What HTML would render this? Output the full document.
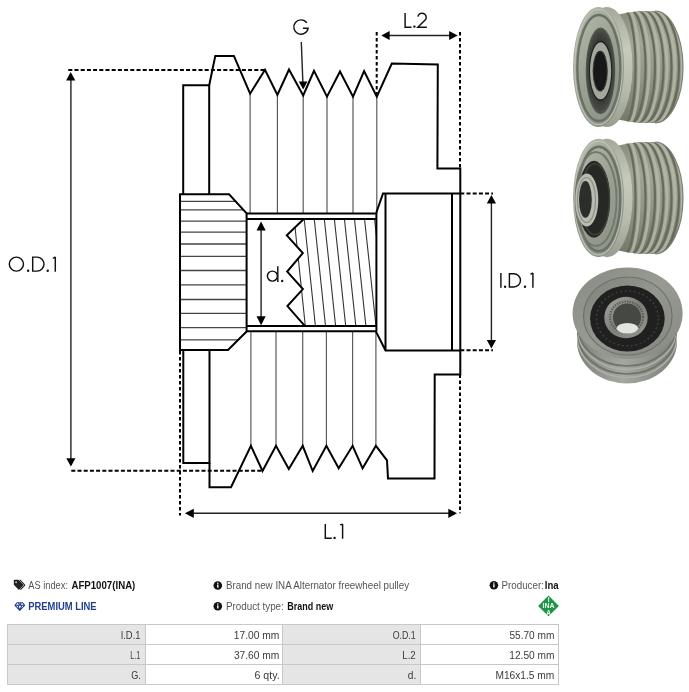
<!DOCTYPE html>
<html><head><meta charset="utf-8">
<style>
html,body{margin:0;padding:0;background:#fff;width:689px;height:692px;overflow:hidden;}
svg{position:absolute;left:0;top:0;will-change:transform;}
text{font-family:"Liberation Sans",sans-serif;}
</style></head>
<body>
<svg width="689" height="692" viewBox="0 0 689 692">
<defs>
  <clipPath id="hubclip"><path d="M180,194.3 L229.1,194.3 L246.6,213.3 L246.6,331.5 L228,349.9 L180,349.9 Z"/></clipPath>
  <clipPath id="thrclip"><path d="M303.5,219.2 L286.8,235.4 L302.8,253.1 L287.2,271.6 L302.9,289.1 L287.4,306.1 L304.8,325.9 L376.4,325.9 L376.4,219.2 Z"/></clipPath>
</defs>

<!-- DIAGRAM -->
<g id="diagram" fill="none" stroke-linejoin="miter">
  <!-- thin rib lines -->
  <g stroke="#5c5c5c" stroke-width="1.2">
    <path d="M250.1,93.7V213.6 M277.4,95V213.6 M303.2,95.5V213.6 M327,96.6V213.6 M353,96.6V213.6 M376.8,96.6V213.6"/>
    <path d="M250.9,331.2V445.8 M276,331.2V445.8 M302.7,331.2V445.8 M326.4,331.2V445.8 M352.6,331.2V445.8 M375.9,331.2V445.8"/>
  </g>
  <!-- spline lines in left hub -->
  <g stroke="#444" stroke-width="1.3" clip-path="url(#hubclip)">
    <path d="M180,201.3H250 M180,209.9H250 M180,221.2H250 M180,232.1H250 M180,244H250 M180,256.3H250 M180,270.5H250 M180,284.9H250 M180,299.5H250 M180,313.4H250 M180,327.7H250 M180,339.8H250"/>
  </g>
  <!-- thread hatch -->
  <g stroke="#333" stroke-width="1.1" clip-path="url(#thrclip)">
    <path d="M294.2,219.2L305.3,326 M304.25,219.2L315.4,326 M314.3,219.2L325.5,326 M324.35,219.2L335.6,326 M334.4,219.2L345.7,326 M344.45,219.2L355.8,326 M354.5,219.2L365.9,326 M364.55,219.2L376,326 M374.6,219.2L386,326"/>
  </g>
  <!-- main outlines -->
  <g stroke="#000" stroke-width="2">
    <path d="M183.2,194.3 V85.3 H209.2 V194.3"/>
    <path d="M183.3,349.9 V463 H209.5 V349.9"/>
    <path d="M209.2,85.3 L215.3,55.9 L233.9,55.9 L250.1,93.7 L265,69.7 L277.4,95 L289,69.5 L303.2,95.5 L314,70.9 L327,96.6 L340,71.5 L353,96.6 L364.1,71 L376.8,96.6 L391.8,63.5 L437.8,64.4 L437.4,168.4 L460.3,168.4 L460.3,374.4 L434.7,374.4 L434.5,478.4 L388,478.4 L387,460.4 L375.9,445.8 L362.6,468.3 L352.6,445.8 L338.7,468.3 L326.4,445.8 L312.7,471 L302.7,445.8 L288.8,469 L276,445.8 L262.5,471 L250.9,445.8 L231,487.2 L209.5,487.2 L209.5,463"/>
    <path d="M180,194.3 L229.1,194.3 L246.6,213.3 L246.6,331.5 L228,349.9 L180,349.9 Z"/>
    <path d="M246.6,213.6 H376.4 M246.6,219.1 H376.4 M246.6,326 H376.4 M246.6,331.2 H376.4"/>
    <path d="M376.4,212.5 V331.6"/>
    <path d="M376.4,212.5 L383,193.5 H460.3 M385.5,193.5 V350.4 M452,193.5 V350.4 M376,331.6 L385.5,350.4 H460.3"/>
    <path d="M303.5,219.2 L286.8,235.4 L302.8,253.1 L287.2,271.6 L302.9,289.1 L287.4,306.1 L304.8,325.9"/>
  </g>
  <!-- dashed extension lines -->
  <g stroke="#000" stroke-width="2" stroke-dasharray="4 2.2">
    <path d="M68.3,70 H265"/>
    <path d="M71.3,470.7 H262.5"/>
    <path d="M460.3,193.6 H493"/>
    <path d="M460.3,350.3 H493"/>
  </g>
  <g stroke="#000" stroke-width="2" stroke-dasharray="3.5 2.5">
    <path d="M376.7,32 V96"/>
    <path d="M460,32 V168.4"/>
    <path d="M180,351 V515.4"/>
    <path d="M460,374.4 V513.3"/>
  </g>
  <!-- dimension lines -->
  <g stroke="#222" stroke-width="1.4">
    <path d="M70.9,78 V460"/>
    <path d="M491.4,202 V342"/>
    <path d="M261.1,228 V318"/>
    <path d="M388,35.5 H451"/>
    <path d="M191,513.3 H451"/>
    <path d="M301.3,42 L302.9,83"/>
  </g>
  <g fill="#000" stroke="none">
    <path d="M70.7,72 L75.3,80.5 L66.1,80.5 Z"/>
    <path d="M70.9,466.6 L75.5,458.3 L66.3,458.3 Z"/>
    <path d="M491.4,195 L496,203.5 L486.8,203.5 Z"/>
    <path d="M491.4,348.5 L496,340 L486.8,340 Z"/>
    <path d="M261.1,221.5 L265.7,230.5 L256.5,230.5 Z"/>
    <path d="M261.1,325.3 L265.7,316.3 L256.5,316.3 Z"/>
    <path d="M381.3,35.5 L389.6,30.9 L389.6,40.1 Z"/>
    <path d="M457.8,35.5 L449.1,30.9 L449.1,40.1 Z"/>
    <path d="M184.9,513.3 L193.8,508.7 L193.8,517.9 Z"/>
    <path d="M457,513.3 L448.3,508.7 L448.3,517.9 Z"/>
    <path d="M303.2,89.6 L307.5,81.5 L298.8,81.5 Z"/>
  </g>
  <!-- labels -->
  <g fill="none" stroke="#111" stroke-width="1.45" stroke-linejoin="miter" stroke-linecap="butt">
    <path d="M306.8,22.8 A7.2,7.2 0 1 0 308.08,28.3 H302.9"/>
    <path d="M405.1,12.9 V27.2 H411.5"/>
    <path d="M417.9,16.6 A4.2,4.2 0 1 1 425.6,19.6 L417.8,27.2 H426.9"/>
    <ellipse cx="16.4" cy="264.1" rx="7.1" ry="7.0"/>
    <path d="M32.7,257.1 H37 A7,7 0 0 1 37,271.1 H32.7 Z"/>
    <path d="M55.3,256.9 V271.8 M52.9,258.5 L55.4,256.9"/>
    <path d="M500.9,272.9 V287.8"/>
    <path d="M509.4,273.7 H513.9 A6.6,6.6 0 0 1 513.9,286.9 H509.4 Z"/>
    <path d="M532.9,272.9 V287.8 M530.5,274.4 L533,272.9"/>
    <circle cx="272.4" cy="276.1" r="5.0"/>
    <path d="M277.8,266.2 V281.9"/>
    <path d="M325.3,524.1 V538.3 H331.8"/>
    <path d="M342.6,524.1 V538.7 M340.1,524.9 L342.7,524.1"/>
  </g>
  <g fill="#111">
    <circle cx="414.4" cy="26.6" r="1.2"/>
    <circle cx="28.1" cy="270.8" r="1.2"/>
    <circle cx="47.7" cy="270.8" r="1.2"/>
    <circle cx="505.1" cy="286.8" r="1.2"/>
    <circle cx="525" cy="286.8" r="1.2"/>
    <circle cx="282.2" cy="281" r="1.2"/>
    <circle cx="334.6" cy="537.9" r="1.2"/>
  </g>
</g>

<!-- PHOTOS -->
<g id="photos">
<defs>
  <linearGradient id="bodyG" x1="0" y1="0" x2="0" y2="1">
    <stop offset="0" stop-color="#878c7c"/>
    <stop offset="0.28" stop-color="#a0a594"/>
    <stop offset="0.6" stop-color="#8f9484"/>
    <stop offset="1" stop-color="#737868"/>
  </linearGradient>
  <linearGradient id="faceG" x1="0.2" y1="0" x2="0.8" y2="1">
    <stop offset="0" stop-color="#b2b9ab"/>
    <stop offset="0.45" stop-color="#9aa294"/>
    <stop offset="1" stop-color="#8a9185"/>
  </linearGradient>
  <linearGradient id="rimG" x1="0" y1="0" x2="0" y2="1">
    <stop offset="0" stop-color="#a4a99c"/>
    <stop offset="0.35" stop-color="#c6cabd"/>
    <stop offset="0.7" stop-color="#b6baad"/>
    <stop offset="1" stop-color="#989d90"/>
  </linearGradient>
  <radialGradient id="bearG" cx="0.5" cy="0.5" r="0.5">
    <stop offset="0.6" stop-color="#30332f"/>
    <stop offset="0.9" stop-color="#454943"/>
    <stop offset="1" stop-color="#585c55"/>
  </radialGradient>
  <linearGradient id="top3G" x1="0" y1="0" x2="1" y2="1">
    <stop offset="0" stop-color="#878b83"/>
    <stop offset="0.5" stop-color="#979b92"/>
    <stop offset="1" stop-color="#858981"/>
  </linearGradient>
  <linearGradient id="ring3G" x1="0" y1="0" x2="1" y2="1">
    <stop offset="0" stop-color="#7f827a"/>
    <stop offset="0.5" stop-color="#94978f"/>
    <stop offset="1" stop-color="#858880"/>
  </linearGradient>
  <linearGradient id="hub3G" x1="0" y1="0" x2="1" y2="1">
    <stop offset="0" stop-color="#a4a7a0"/>
    <stop offset="0.5" stop-color="#7c7f79"/>
    <stop offset="1" stop-color="#959891"/>
  </linearGradient>
  <linearGradient id="body3G" x1="0" y1="0" x2="1" y2="0">
    <stop offset="0" stop-color="#7c8078"/>
    <stop offset="0.45" stop-color="#a4a8a0"/>
    <stop offset="1" stop-color="#7a7e76"/>
  </linearGradient>
</defs>
<!-- photo 1 -->
<g><clipPath id="bclip1"><path d="M613,16 Q628,11.5 645,11 L655,11 A28,56 0 0 1 655,123 L645,123 Q628,122.5 613,118 Z"/></clipPath>
<path d="M613,16 Q628,11.5 645,11 L655,11 A28,56 0 0 1 655,123 L645,123 Q628,122.5 613,118 Z" fill="url(#bodyG)"/>
<g clip-path="url(#bclip1)" fill="none">
<path d="M624.0,10 A11.5,57 0 0 1 624.0,124" stroke="#656a5c" stroke-width="2.2"/>
<path d="M627.6,10 A11.5,57 0 0 1 627.6,124" stroke="#b4b9a8" stroke-width="3.0" stroke-opacity="0.85"/>
<path d="M630.0,10 A15.5,57 0 0 1 630.0,124" stroke="#656a5c" stroke-width="2.2"/>
<path d="M633.6,10 A15.5,57 0 0 1 633.6,124" stroke="#b4b9a8" stroke-width="3.0" stroke-opacity="0.85"/>
<path d="M636.5,10 A18.5,57 0 0 1 636.5,124" stroke="#656a5c" stroke-width="2.2"/>
<path d="M640.1,10 A18.5,57 0 0 1 640.1,124" stroke="#b4b9a8" stroke-width="3.0" stroke-opacity="0.85"/>
<path d="M643.0,10 A20.5,57 0 0 1 643.0,124" stroke="#656a5c" stroke-width="2.2"/>
<path d="M646.6,10 A20.5,57 0 0 1 646.6,124" stroke="#b4b9a8" stroke-width="3.0" stroke-opacity="0.85"/>
<path d="M649.5,10 A22.0,57 0 0 1 649.5,124" stroke="#656a5c" stroke-width="2.2"/>
<path d="M653.1,10 A22.0,57 0 0 1 653.1,124" stroke="#b4b9a8" stroke-width="3.0" stroke-opacity="0.85"/>
<path d="M656.0,10 A23.0,57 0 0 1 656.0,124" stroke="#656a5c" stroke-width="2.2"/>
<path d="M659.6,10 A23.0,57 0 0 1 659.6,124" stroke="#b4b9a8" stroke-width="3.0" stroke-opacity="0.85"/>
</g>
<path d="M655,11 A28,56 0 0 1 655,123" fill="none" stroke="#7d8273" stroke-width="1.2"/>
<ellipse cx="607" cy="67" rx="25.5" ry="60" fill="url(#rimG)"/>
<ellipse cx="598.5" cy="67" rx="25.5" ry="60" fill="url(#faceG)"/>
<ellipse cx="598.5" cy="67" rx="23.8" ry="57.5" fill="none" stroke="#c4c8bb" stroke-width="1.2" stroke-opacity="0.8"/>
<ellipse cx="598.8" cy="68" rx="21.5" ry="53" fill="none" stroke="#6c7166" stroke-width="2.4"/>
<ellipse cx="600.5" cy="70.8" rx="14.8" ry="43.4" fill="url(#bearG)"/>
<ellipse cx="600.6" cy="70.8" rx="11.6" ry="30" fill="#1e1f1d"/>
<ellipse cx="600.6" cy="70.8" rx="10.6" ry="28.5" fill="#a3a89d"/>
<ellipse cx="600.2" cy="71.2" rx="7.4" ry="20.4" fill="#161716"/>
<ellipse cx="600.2" cy="71.2" rx="7.0" ry="19.8" fill="none" stroke="#4a4d48" stroke-width="1.4" stroke-dasharray="1 1.3"/></g>
<!-- photo 2 -->
<g><clipPath id="bclip2"><path d="M613,147 Q628,142.5 645,142 L655,142 A28,56 0 0 1 655,254 L645,254 Q628,253.5 613,249 Z"/></clipPath>
<path d="M613,147 Q628,142.5 645,142 L655,142 A28,56 0 0 1 655,254 L645,254 Q628,253.5 613,249 Z" fill="url(#bodyG)"/>
<g clip-path="url(#bclip2)" fill="none">
<path d="M624.0,141 A11.5,57 0 0 1 624.0,255" stroke="#656a5c" stroke-width="2.2"/>
<path d="M627.6,141 A11.5,57 0 0 1 627.6,255" stroke="#b4b9a8" stroke-width="3.0" stroke-opacity="0.85"/>
<path d="M630.0,141 A15.5,57 0 0 1 630.0,255" stroke="#656a5c" stroke-width="2.2"/>
<path d="M633.6,141 A15.5,57 0 0 1 633.6,255" stroke="#b4b9a8" stroke-width="3.0" stroke-opacity="0.85"/>
<path d="M636.5,141 A18.5,57 0 0 1 636.5,255" stroke="#656a5c" stroke-width="2.2"/>
<path d="M640.1,141 A18.5,57 0 0 1 640.1,255" stroke="#b4b9a8" stroke-width="3.0" stroke-opacity="0.85"/>
<path d="M643.0,141 A20.5,57 0 0 1 643.0,255" stroke="#656a5c" stroke-width="2.2"/>
<path d="M646.6,141 A20.5,57 0 0 1 646.6,255" stroke="#b4b9a8" stroke-width="3.0" stroke-opacity="0.85"/>
<path d="M649.5,141 A22.0,57 0 0 1 649.5,255" stroke="#656a5c" stroke-width="2.2"/>
<path d="M653.1,141 A22.0,57 0 0 1 653.1,255" stroke="#b4b9a8" stroke-width="3.0" stroke-opacity="0.85"/>
<path d="M656.0,141 A23.0,57 0 0 1 656.0,255" stroke="#656a5c" stroke-width="2.2"/>
<path d="M659.6,141 A23.0,57 0 0 1 659.6,255" stroke="#b4b9a8" stroke-width="3.0" stroke-opacity="0.85"/>
</g>
<path d="M655,142 A28,56 0 0 1 655,254" fill="none" stroke="#7d8273" stroke-width="1.2"/>
<ellipse cx="607" cy="198" rx="25.5" ry="59.3" fill="url(#rimG)"/>
<ellipse cx="598.5" cy="198" rx="25.5" ry="59.3" fill="url(#faceG)"/>
<ellipse cx="598.5" cy="198" rx="23.8" ry="56.8" fill="none" stroke="#c4c8bb" stroke-width="1.2" stroke-opacity="0.8"/>
<ellipse cx="598.8" cy="199" rx="21.5" ry="52.3" fill="none" stroke="#6c7166" stroke-width="2.4"/>
<ellipse cx="596" cy="199" rx="20.5" ry="47" fill="none" stroke="#72776d" stroke-width="1.8"/>
<ellipse cx="594" cy="199.2" rx="16" ry="38.5" fill="#262825"/>
<ellipse cx="595" cy="199.2" rx="14.5" ry="35.5" fill="none" stroke="#3d403b" stroke-width="1.5"/>
<ellipse cx="586.8" cy="200" rx="11.5" ry="26.5" fill="#b7bbb0"/>
<ellipse cx="586.5" cy="200" rx="9" ry="22.5" fill="none" stroke="#8c9086" stroke-width="1.2"/>
<ellipse cx="585.4" cy="199.4" rx="6.4" ry="18.4" fill="#2c2e2b"/></g>
<!-- photo 3 -->
<g><clipPath id="b3clip"><path d="M577,313 V341.5 A50,42 0 0 0 677,341.5 V313 Z"/></clipPath>
<path d="M577,313 V341.5 A50,42 0 0 0 677,341.5 V313 Z" fill="url(#body3G)"/>
<g clip-path="url(#b3clip)" fill="none">
<path d="M577,324 A50,42 0 0 0 677,324" stroke="#6e7169" stroke-width="1.6"/>
<path d="M577,327.5 A50,42 0 0 0 677,327.5" stroke="#aeb1a8" stroke-width="1.5"/>
<path d="M577,332 A50,42 0 0 0 677,332" stroke="#6e7169" stroke-width="1.6"/>
<path d="M577,335.5 A50,42 0 0 0 677,335.5" stroke="#aeb1a8" stroke-width="1.5"/>
</g>
<ellipse cx="627.6" cy="313.2" rx="55" ry="45.8" fill="url(#top3G)"/>
<ellipse cx="627.8" cy="316" rx="44.3" ry="39" fill="url(#ring3G)"/>
<ellipse cx="627.8" cy="316" rx="44.3" ry="39" fill="none" stroke="#6e716a" stroke-width="1.2"/>
<ellipse cx="627.4" cy="318.5" rx="37.3" ry="33" fill="#1f201f"/>
<ellipse cx="627.4" cy="318.5" rx="31" ry="27.5" fill="none" stroke="#3a3c39" stroke-width="1.6" stroke-dasharray="2 2.5"/>
<ellipse cx="626" cy="317.5" rx="21.7" ry="20.7" fill="url(#hub3G)"/>
<ellipse cx="626.5" cy="317" rx="16.5" ry="15.5" fill="none" stroke="#5a5d57" stroke-width="2.2" stroke-dasharray="1.4 1.2"/>
<ellipse cx="627" cy="317.5" rx="14" ry="14" fill="#454843"/>
<ellipse cx="627.4" cy="328.3" rx="10.8" ry="5.3" fill="#e3e5df"/></g>
</g>

<!-- INFO -->
<g id="info" font-size="10.3">
  <!-- tags icon -->
  <g transform="translate(13.8,579.8)">
    <path d="M0,0.8 Q0,0 0.8,0 H4.6 L9.4,4.8 Q9.9,5.3 9.4,5.8 L5.6,9.6 Q5.1,10.1 4.6,9.6 L0,5 Z M2.3,1.6 A0.8,0.8 0 1 0 2.31,1.6 Z" fill="#222" fill-rule="evenodd"/>
    <path d="M6,0 L10.6,4.8 Q11.1,5.3 10.6,5.8 L6.6,9.8" fill="none" stroke="#222" stroke-width="1.1"/>
  </g>
  <!-- gem icon -->
  <g transform="translate(14.3,602.2)" fill="none" stroke="#213f8e" stroke-width="1.05" stroke-linejoin="round">
    <path d="M2.7,0.5 H8.3 L10.3,3.1 L5.5,8.3 L0.7,3.1 Z M0.7,3.1 H10.3 M4,0.5 L5.5,3.1 L7,0.5 M3.5,3.1 L5.5,8 L7.5,3.1"/>
  </g>

  <!-- info icons -->
  <g fill="#111">
    <circle cx="217.8" cy="585.5" r="4.3"/>
    <circle cx="217.8" cy="606.3" r="4.3"/>
    <circle cx="493.9" cy="585.2" r="4.3"/>
  </g>
  <g fill="#fff">
    <rect x="217.1" y="584.5" width="1.4" height="3.2"/><circle cx="217.8" cy="583.2" r="0.75"/>
    <rect x="217.1" y="605.3" width="1.4" height="3.2"/><circle cx="217.8" cy="604" r="0.75"/>
    <rect x="493.2" y="584.2" width="1.4" height="3.2"/><circle cx="493.9" cy="582.9" r="0.75"/>
  </g>

  <g font-size="100">
  <text transform="translate(28.30,589.20) scale(0.0928,0.1043)" fill="#555">AS index:</text>
  <text transform="translate(71.41,589.20) scale(0.0968,0.1043)" fill="#111" font-weight="bold">AFP1007(INA)</text>
  <text transform="translate(28.24,609.90) scale(0.0941,0.1029)" fill="#213f8e" font-weight="bold">PREMIUM LINE</text>
  <text transform="translate(225.92,589.20) scale(0.0978,0.1043)" fill="#555">Brand new INA Alternator freewheel pulley</text>
  <text transform="translate(225.91,610.20) scale(0.0984,0.1043)" fill="#555">Product type:</text>
  <text transform="translate(287.37,610.20) scale(0.0899,0.1043)" fill="#111" font-weight="bold">Brand new</text>
  <text transform="translate(501.41,589.00) scale(0.0983,0.1043)" fill="#555">Producer:</text>
  <text transform="translate(544.73,589.00) scale(0.0957,0.1043)" fill="#111" font-weight="bold">Ina</text>
  </g>
  <!-- INA logo -->
  <path d="M548.5,595.6 L558.9,606 L548.5,616.2 L538.1,606 Z" fill="#1e9549"/>
  <g fill="#eef8f0" font-weight="bold" font-size="6.4" text-anchor="middle">
    <text x="548.6" y="602.2">I</text>
    <text x="548.6" y="608.4" font-size="6.8" textLength="12" lengthAdjust="spacingAndGlyphs">INA</text>
    <text x="548.6" y="614.6">A</text>
  </g>

  <!-- table -->
  <g>
    <rect x="7.5" y="624.5" width="138" height="60" fill="#e5e5e5"/>
    <rect x="282.5" y="624.5" width="138" height="60" fill="#e5e5e5"/>
    <rect x="145.5" y="624.5" width="137" height="60" fill="#fff"/>
    <rect x="420.5" y="624.5" width="138" height="60" fill="#fff"/>
    <g stroke="#c8c8c8" stroke-width="1" fill="none">
      <rect x="7.5" y="624.5" width="551" height="60"/>
      <path d="M7.5,644.5 H558.5 M7.5,664.5 H558.5 M145.5,624.5 V684.5 M282.5,624.5 V684.5 M420.5,624.5 V684.5"/>
    </g>
    <g font-size="100">
      <text transform="translate(120.65,639.30) scale(0.0939,0.1116)" fill="#3a3a3a">I.D.1</text>
      <text transform="translate(130.32,658.80) scale(0.0722,0.1116)" fill="#3a3a3a">L.1</text>
      <text transform="translate(131.24,678.50) scale(0.0912,0.1116)" fill="#3a3a3a">G.</text>
      <text transform="translate(233.78,639.30) scale(0.1026,0.1116)" fill="#3a3a3a">17.00 mm</text>
      <text transform="translate(233.89,658.80) scale(0.1023,0.1116)" fill="#3a3a3a">37.60 mm</text>
      <text transform="translate(254.47,678.50) scale(0.1063,0.1116)" fill="#3a3a3a">6 qty.</text>
      <text transform="translate(392.66,639.30) scale(0.0884,0.1116)" fill="#3a3a3a">O.D.1</text>
      <text transform="translate(402.22,658.80) scale(0.0976,0.1116)" fill="#3a3a3a">L.2</text>
      <text transform="translate(407.79,678.50) scale(0.1014,0.1116)" fill="#3a3a3a">d.</text>
      <text transform="translate(509.40,639.30) scale(0.1012,0.1116)" fill="#3a3a3a">55.70 mm</text>
      <text transform="translate(509.29,658.80) scale(0.1014,0.1116)" fill="#3a3a3a">12.50 mm</text>
      <text transform="translate(495.38,678.50) scale(0.1021,0.1116)" fill="#3a3a3a">M16x1.5 mm</text>
    </g>
  </g>
</g>
</svg>
</body></html>
